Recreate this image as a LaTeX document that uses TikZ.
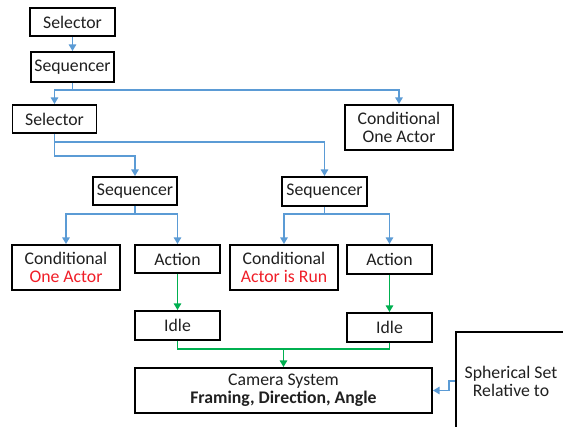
\documentclass[tikz,border=0pt]{standalone}
\usepackage{fontspec}
\setmainfont{Carlito}
\usetikzlibrary{arrows.meta}
\definecolor{linkblue}{HTML}{5B9BD5}
\definecolor{linkgreen}{HTML}{00B050}
\definecolor{warnred}{HTML}{F01E28}
\definecolor{inkgray}{HTML}{202020}
\begin{document}
\begin{tikzpicture}[x=0.75pt,y=-0.75pt,
  box/.style={draw=black,line width=1.4pt,fill=white,inner sep=1pt,align=center,
    text=inkgray,font=\fontsize{13.3}{13.6}\selectfont},
  bx/.style args={#1x#2}{box,minimum width=#1*0.75pt,minimum height=#2*0.75pt},
  tip/.style={-{Triangle[width=5.5pt,length=5pt]}},
  bl/.style={draw=linkblue,line width=1.3pt},
  gr/.style={draw=linkgreen,line width=1.3pt}]
\useasboundingbox (0,0) rectangle (563,427);
\fill[white] (0,0) rectangle (563,427);
\begin{scope}
\clip (0,0) rectangle (563,427);

% tree nodes
\node[bx=85x28] (sel1) at (72.5,22) {Selector};
\node[bx=83x30] (seq1) at (72.5,67) {Sequencer};
\node[bx=84x28] (sel2) at (54.5,119) {Selector};
\node[bx=108x45] (cond0) at (399,127.5) {Conditional\\One Actor};
\node[bx=84x28] (seqL) at (135,191) {Sequencer};
\node[bx=85x29] (seqR) at (324.5,191.5) {Sequencer};
\node[bx=108x45] (condL) at (66,267.5) {Conditional\\\textcolor{warnred}{One Actor}};
\node[bx=85x28] (actL) at (177.5,259) {Action};
\node[bx=108x45] (condR) at (284,267.5) {Conditional\\\textcolor{warnred}{Actor is Run}};
\node[bx=85x29] (actR) at (389.5,259.5) {Action};
\node[bx=85x29] (idleL) at (177.5,325.5) {Idle};
\node[bx=85x29] (idleR) at (389.5,327.5) {Idle};
\node[bx=297x45] (cam) at (283.5,390.5) {Camera System\\\textbf{Framing, Direction, Angle}};
\node[bx=110x98] (sph) at (511,381) {Spherical Set\\Relative to};

% blue links
\draw[bl,tip] (sel1.south) -- (seq1.north);
\draw[bl,tip] (seq1.south) -- ++(0,7) -| (sel2.north);
\draw[bl,tip] (seq1.south) -- ++(0,7) -| (cond0.north);
\draw[bl,tip] (sel2.south) -- ++(0,8) -| (seqR.north);
\draw[bl,tip] (sel2.south) -- ++(0,22) -| (seqL.north);
\draw[bl,tip] (seqL.south) -- ++(0,8) -| (condL.north);
\draw[bl,tip] (seqL.south) -- ++(0,8) -| (actL.north);
\draw[bl,tip] (seqR.south) -- ++(0,7) -| (condR.north);
\draw[bl,tip] (seqR.south) -- ++(0,7) -| (actR.north);
\draw[bl,tip] (sph.west) -- ++(-6,0) |- (cam.east);

% green links
\draw[gr,tip] (actL.south) -- (idleL.north);
\draw[gr,tip] (actR.south) -- (idleR.north);
\draw[gr] (idleL.south) -- ++(0,8) coordinate (gj) -| (idleR.south);
\draw[gr,tip] (gj -| cam.north) -- (cam.north);
\end{scope}
\end{tikzpicture}
\end{document}
